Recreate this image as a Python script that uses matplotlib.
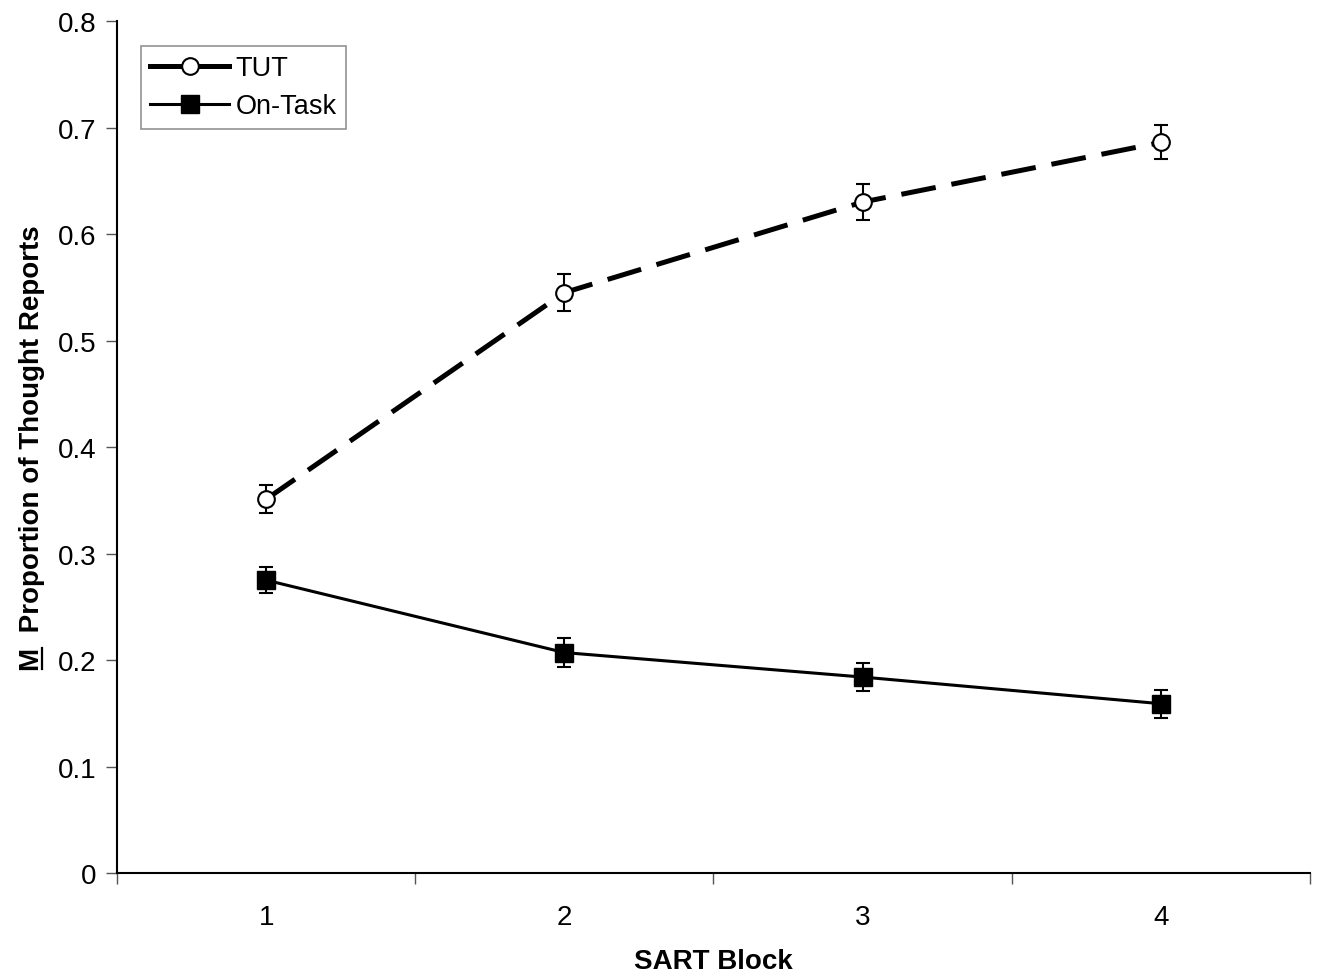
import matplotlib
matplotlib.use("Agg")
import matplotlib.pyplot as plt
from matplotlib.lines import Line2D

plt.rcParams['font.family'] = ['Liberation Sans', 'DejaVu Sans']

blocks = [1, 2, 3, 4]
block_labels = ["1", "2", "3", "4"]
tut_mean = [0.351, 0.545, 0.630, 0.686]
tut_err = [0.013, 0.017, 0.017, 0.016]
ontask_mean = [0.275, 0.207, 0.184, 0.159]
ontask_err = [0.012, 0.014, 0.013, 0.013]

fig = plt.figure(figsize=(13.18, 9.78), dpi=100)
ax = fig.add_axes([0.0888, 0.1063, 0.9051, 0.8712])

ax.errorbar(blocks, tut_mean, yerr=tut_err, color='black', lw=3.6,
            linestyle=(0, (7, 3.2)), marker='o', markersize=12,
            markerfacecolor='white', markeredgecolor='black', markeredgewidth=1.5,
            ecolor='black', elinewidth=1.5, capsize=5, capthick=1.5, zorder=3)
ax.errorbar(blocks, ontask_mean, yerr=ontask_err, color='black', lw=2.2,
            linestyle='-', marker='s', markersize=13,
            markerfacecolor='black', markeredgecolor='black',
            ecolor='black', elinewidth=1.5, capsize=5, capthick=1.5, zorder=3)

ax.set_xlim(0.5, 4.5)
ax.set_ylim(0, 0.8)
ax.set_yticks([0, 0.1, 0.2, 0.3, 0.4, 0.5, 0.6, 0.7, 0.8])
ax.set_yticklabels(["0", "0.1", "0.2", "0.3", "0.4", "0.5", "0.6", "0.7", "0.8"])
ax.set_xticks([0.5, 1.5, 2.5, 3.5, 4.5])
ax.set_xticklabels([])
ax.set_xticks(blocks, minor=True)
ax.set_xticklabels(block_labels, minor=True)
ax.tick_params(axis='x', which='minor', length=0, pad=22, labelsize=20)
ax.tick_params(axis='x', which='major', length=8, width=1, color='#555555')
ax.tick_params(axis='y', length=8, width=1, color='#555555', labelsize=20, pad=7)

for s in ['top', 'right']:
    ax.spines[s].set_visible(False)
for s in ['left', 'bottom']:
    ax.spines[s].set_linewidth(1.5)

ax.set_xlabel("SART Block", fontsize=20, fontweight='bold')
ax.xaxis.set_label_coords(0.5, -0.088)
ylab = ax.set_ylabel("M  Proportion of Thought Reports", fontsize=20, fontweight='bold')
ax.yaxis.set_label_coords(-0.060, 0.5)

handles = [
    Line2D([], [], color='black', lw=3.6, marker='o', markersize=12,
           markerfacecolor='white', markeredgecolor='black', markeredgewidth=1.5),
    Line2D([], [], color='black', lw=2.2, marker='s', markersize=13,
           markerfacecolor='black'),
]
leg = ax.legend(handles, ["TUT", "On-Task"], loc='upper left',
                bbox_to_anchor=(0.020, 0.971), fontsize=19.5, frameon=True,
                fancybox=False, edgecolor='#777777', handlelength=2.9,
                borderpad=0.35, labelspacing=0.45, handletextpad=0.25,
                borderaxespad=0)
leg.get_frame().set_linewidth(1.2)

# underline the "M" of the y label
fig.canvas.draw()
renderer = fig.canvas.get_renderer()
bb = ylab.get_window_extent(renderer)
tmp = fig.text(0, 0, "M", fontsize=20, fontweight='bold')
mw = tmp.get_window_extent(renderer).width
tmp.remove()
inv = fig.transFigure.inverted()
ux = bb.x1 - 3
p0 = inv.transform((ux, bb.y0 + 1))
p1 = inv.transform((ux, bb.y0 + mw - 1))
fig.add_artist(Line2D([p0[0], p1[0]], [p0[1], p1[1]], color='black', lw=1.6,
                      transform=fig.transFigure))

fig.savefig("out.png", dpi=100)
